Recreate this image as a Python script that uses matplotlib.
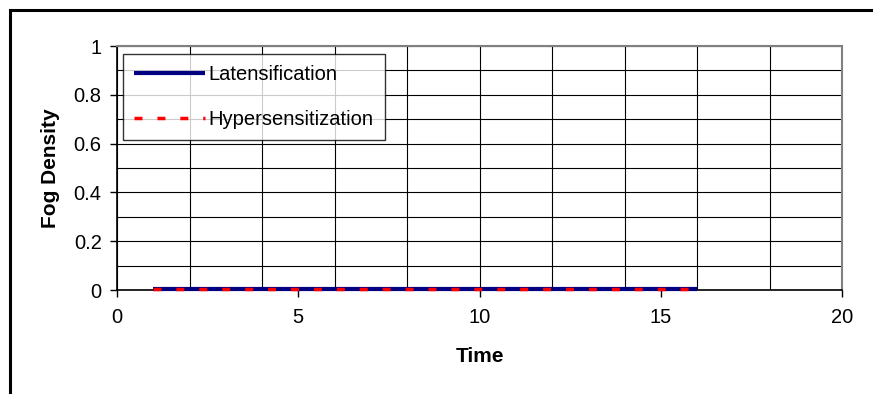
import matplotlib
matplotlib.use('Agg')
import matplotlib.pyplot as plt
from matplotlib.patches import Rectangle
from matplotlib.ticker import MultipleLocator

# data
time = [1, 2, 3, 4, 5, 6, 7, 8, 9, 10, 11, 12, 13, 14, 15, 16]
latensification = [0.005, 0.005, 0.005, 0.005, 0.005, 0.005, 0.005, 0.005,
                   0.005, 0.005, 0.005, 0.005, 0.005, 0.005, 0.005, 0.005]
hypersensitization = [0.003, 0.003, 0.003, 0.003, 0.003, 0.003, 0.003, 0.003,
                      0.003, 0.003, 0.003, 0.003, 0.003, 0.003, 0.003, 0.003]
x_ticks = [0, 5, 10, 15, 20]
y_ticks = [0, 0.2, 0.4, 0.6, 0.8, 1]

plt.rcParams['font.family'] = ['Liberation Sans', 'DejaVu Sans']

W, H = 873, 394
fig = plt.figure(figsize=(W / 100, H / 100), dpi=100)
ax = fig.add_axes([117 / W, 1 - 290 / H, (842 - 117) / W, (290 - 46) / H])

# chart-area border (cut off at right and bottom)
fig.patches.append(Rectangle((10 / W, -0.1), 1.2, 1 - 10 / H + 0.1,
                             transform=fig.transFigure, fill=False,
                             edgecolor='black', linewidth=2.2))

ax.plot(time, latensification, color='#000080', linewidth=3,
        solid_capstyle='butt', label='Latensification', clip_on=False, zorder=3)
ax.plot(time, hypersensitization, color='#ff0000', linewidth=2.5,
        linestyle=(0, (2.3, 4.3)), label='Hypersensitization', clip_on=False, zorder=4)

ax.set_xlim(0, 20)
ax.set_ylim(0, 1)
ax.set_xticks(x_ticks)
ax.set_yticks(y_ticks)
ax.set_yticklabels(['0', '0.2', '0.4', '0.6', '0.8', '1'])
ax.xaxis.set_minor_locator(MultipleLocator(2))
ax.yaxis.set_minor_locator(MultipleLocator(0.1))
ax.xaxis.remove_overlapping_locs = False
ax.yaxis.remove_overlapping_locs = False
ax.tick_params(which='minor', length=0)
ax.tick_params(which='major', direction='out', length=5, width=1, labelsize=14.5)
ax.tick_params(axis='y', pad=6)
ax.tick_params(axis='x', pad=8)
ax.grid(which='minor', color='black', linewidth=0.8)
ax.grid(which='major', visible=False)
ax.set_axisbelow(True)

for s in ['top', 'right']:
    ax.spines[s].set_color('#808080')
    ax.spines[s].set_linewidth(1.5)
ax.spines['left'].set_linewidth(1.2)
ax.spines['bottom'].set_linewidth(1.2)

ax.set_xlabel('Time', fontsize=15, fontweight='bold', labelpad=14)
ax.set_ylabel('Fog Density', fontsize=15, fontweight='bold', labelpad=10)

leg = ax.legend(loc='upper left', bbox_to_anchor=(6 / 725, 1 - 8 / 244), fontsize=14.5,
                frameon=True, fancybox=False, handlelength=3.5, handletextpad=0.2,
                labelspacing=1.3, borderpad=0.55, borderaxespad=0)
leg.get_frame().set_edgecolor('black')
leg.get_frame().set_linewidth(1)

fig.savefig('out.png', dpi=100)
